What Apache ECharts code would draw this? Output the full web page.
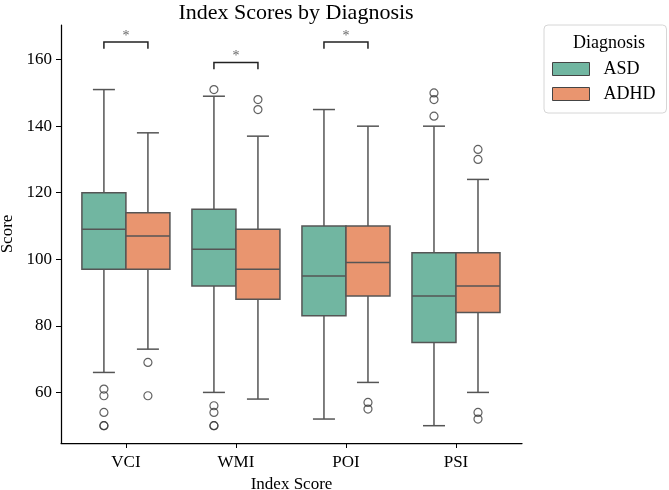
<!DOCTYPE html>
<html><head><meta charset="utf-8">
<script src="https://cdn.jsdelivr.net/npm/echarts@6/dist/echarts.min.js"></script>
<style>html,body{margin:0;padding:0;background:#fff}#c{width:669px;height:490px}</style>
</head><body><div id="c"></div>
<script>
// ---- data ----
const categories = ['VCI', 'WMI', 'POI', 'PSI'];
const groups = ['ASD', 'ADHD'];
// [lower whisker, Q1, median, Q3, upper whisker]
const asdBox = [[66, 97, 109, 120, 151], [60, 92, 103, 115, 149], [52, 83, 95, 110, 145], [50, 75, 89, 102, 140]];
const adhdBox = [[73, 97, 107, 114, 138], [58, 88, 97, 109, 137], [63, 89, 99, 110, 140], [60, 84, 92, 102, 124]];
const asdOutliers = [[61, 59, 54, 50, 50], [151, 56, 54, 50, 50], [], [150, 148, 143]];
const adhdOutliers = [[69, 59], [148, 145], [57, 55], [133, 130, 54, 52]];
const sigCategories = ['VCI', 'WMI', 'POI'];
const sigLevels = [165.3, 159.1, 165.3];
const sigLabels = ['*', '*', '*'];
const yTicks = [60, 80, 100, 120, 140, 160];

// ---- style ----
const FONT = "'Liberation Serif','Times New Roman',serif";
const colors = ['#71b6a1', '#e9956f'];
const LINE = '#555555';
const HALF = 0.2;      // half width of a box (category units)
const CAP = 0.1;       // half width of whisker cap
const offsets = [-0.2, 0.2];

function boxRender(offset, color) {
  return function (params, api) {
    const c = api.value(0) + offset;
    const lw = api.value(1), q1 = api.value(2), md = api.value(3), q3 = api.value(4), uw = api.value(5);
    const P = (x, y) => api.coord([x, y]);
    const ls = { stroke: LINE, lineWidth: 1.5 };
    const a = P(c - HALF, q3), b = P(c + HALF, q1);
    return {
      type: 'group',
      children: [
        { type: 'line', shape: { x1: P(c, uw)[0], y1: P(c, uw)[1], x2: P(c, q3)[0], y2: P(c, q3)[1] }, style: ls },
        { type: 'line', shape: { x1: P(c, q1)[0], y1: P(c, q1)[1], x2: P(c, lw)[0], y2: P(c, lw)[1] }, style: ls },
        { type: 'line', shape: { x1: P(c - CAP, uw)[0], y1: P(c - CAP, uw)[1], x2: P(c + CAP, uw)[0], y2: P(c + CAP, uw)[1] }, style: ls },
        { type: 'line', shape: { x1: P(c - CAP, lw)[0], y1: P(c - CAP, lw)[1], x2: P(c + CAP, lw)[0], y2: P(c + CAP, lw)[1] }, style: ls },
        { type: 'rect', shape: { x: a[0], y: a[1], width: b[0] - a[0], height: b[1] - a[1] }, style: { fill: color, stroke: LINE, lineWidth: 1.5 } },
        { type: 'line', shape: { x1: P(c - HALF, md)[0], y1: P(c - HALF, md)[1], x2: P(c + HALF, md)[0], y2: P(c + HALF, md)[1] }, style: ls }
      ]
    };
  };
}

function boxData(arr) { return arr.map((r, i) => [i].concat(r)); }
function outlierData(arr, offset) {
  const out = [];
  arr.forEach((vals, i) => vals.forEach(v => out.push([i + offset, v])));
  return out;
}

const sigData = sigCategories.map((c, i) => [categories.indexOf(c), sigLevels[i], i]);

const chart = echarts.init(document.getElementById('c'), null, { renderer: 'canvas' });
chart.setOption({
  animation: false,
  backgroundColor: '#fff',
  title: [
    { text: 'Index Scores by Diagnosis', left: 291, top: -3, textAlign: 'center',
      textStyle: { fontFamily: FONT, fontSize: 22, fontWeight: 'normal', color: '#000' } },
    { text: 'Diagnosis', left: 604, top: 29, textAlign: 'center',
      textStyle: { fontFamily: FONT, fontSize: 18, fontWeight: 'normal', color: '#000' } }
  ],
  legend: {
    data: groups, orient: 'vertical', left: 544, top: 25,
    padding: [35, 11, 10, 8], itemWidth: 37, itemHeight: 13, itemGap: 7,
    icon: 'rect', borderColor: '#d6d6d6', borderWidth: 1, borderRadius: 4,
    itemStyle: { borderColor: '#444', borderWidth: 1 },
    textStyle: { fontFamily: FONT, fontSize: 18, color: '#000', padding: [0, 0, 0, 9] },
    selectedMode: false
  },
  grid: { left: 61, right: 147, top: 25, bottom: 47, containLabel: false, outerBoundsMode: 'none' },
  xAxis: {
    type: 'value', min: -0.59, max: 3.6,
    name: 'Index Score', nameLocation: 'middle', nameGap: 31,
    nameTextStyle: { fontFamily: FONT, fontSize: 17, color: '#000' },
    axisLine: { show: true, onZero: false, lineStyle: { color: '#000', width: 1.25 } },
    axisTick: { show: true, length: 5, customValues: [0, 1, 2, 3], lineStyle: { color: '#000', width: 1 } },
    axisLabel: { customValues: [0, 1, 2, 3], formatter: v => categories[Math.round(v)], margin: 11,
      fontFamily: FONT, fontSize: 17, color: '#000' },
    splitLine: { show: false }
  },
  yAxis: {
    type: 'value', min: 44.8, max: 170.4,
    name: 'Score', nameLocation: 'middle', nameGap: 44,
    nameTextStyle: { fontFamily: FONT, fontSize: 17, color: '#000' },
    axisLine: { show: true, onZero: false, lineStyle: { color: '#000', width: 1.25 } },
    axisTick: { show: true, length: 5, customValues: yTicks, lineStyle: { color: '#000', width: 1 } },
    axisLabel: { customValues: yTicks, margin: 9, fontFamily: FONT, fontSize: 17, color: '#000' },
    splitLine: { show: false }
  },
  series: [
    { name: 'ASD', type: 'custom', renderItem: boxRender(offsets[0], colors[0]), data: boxData(asdBox),
      itemStyle: { color: colors[0] }, encode: { x: 0, y: [1, 2, 3, 4, 5] }, z: 2 },
    { name: 'ADHD', type: 'custom', renderItem: boxRender(offsets[1], colors[1]), data: boxData(adhdBox),
      itemStyle: { color: colors[1] }, encode: { x: 0, y: [1, 2, 3, 4, 5] }, z: 2 },
    { name: 'ASD outliers', type: 'scatter', data: outlierData(asdOutliers, offsets[0]),
      symbol: 'circle', symbolSize: 8, itemStyle: { color: 'rgba(255,255,255,0)', borderColor: '#3a3a3a', borderWidth: 1.2 }, z: 3 },
    { name: 'ADHD outliers', type: 'scatter', data: outlierData(adhdOutliers, offsets[1]),
      symbol: 'circle', symbolSize: 8, itemStyle: { color: 'rgba(255,255,255,0)', borderColor: '#3a3a3a', borderWidth: 1.2 }, z: 3 },
    { name: 'significance', type: 'custom', data: sigData, encode: { x: 0, y: 1 }, z: 4,
      renderItem: function (params, api) {
        const c = api.value(0), lv = api.value(1);
        const lab = sigLabels[api.value(2)];
        const p1 = api.coord([c - 0.2, lv - 2]), p2 = api.coord([c - 0.2, lv]);
        const p3 = api.coord([c + 0.2, lv]), p4 = api.coord([c + 0.2, lv - 2]);
        const t = api.coord([c, lv]);
        return { type: 'group', children: [
          { type: 'polyline', shape: { points: [p1, p2, p3, p4] }, style: { stroke: '#222', lineWidth: 1.5, fill: null } },
          { type: 'text', x: t[0], y: t[1] + 1, style: { text: lab, fontFamily: FONT, fontSize: 14, fill: '#666', align: 'center', verticalAlign: 'bottom' } }
        ] };
      } }
  ]
});
</script></body></html>
